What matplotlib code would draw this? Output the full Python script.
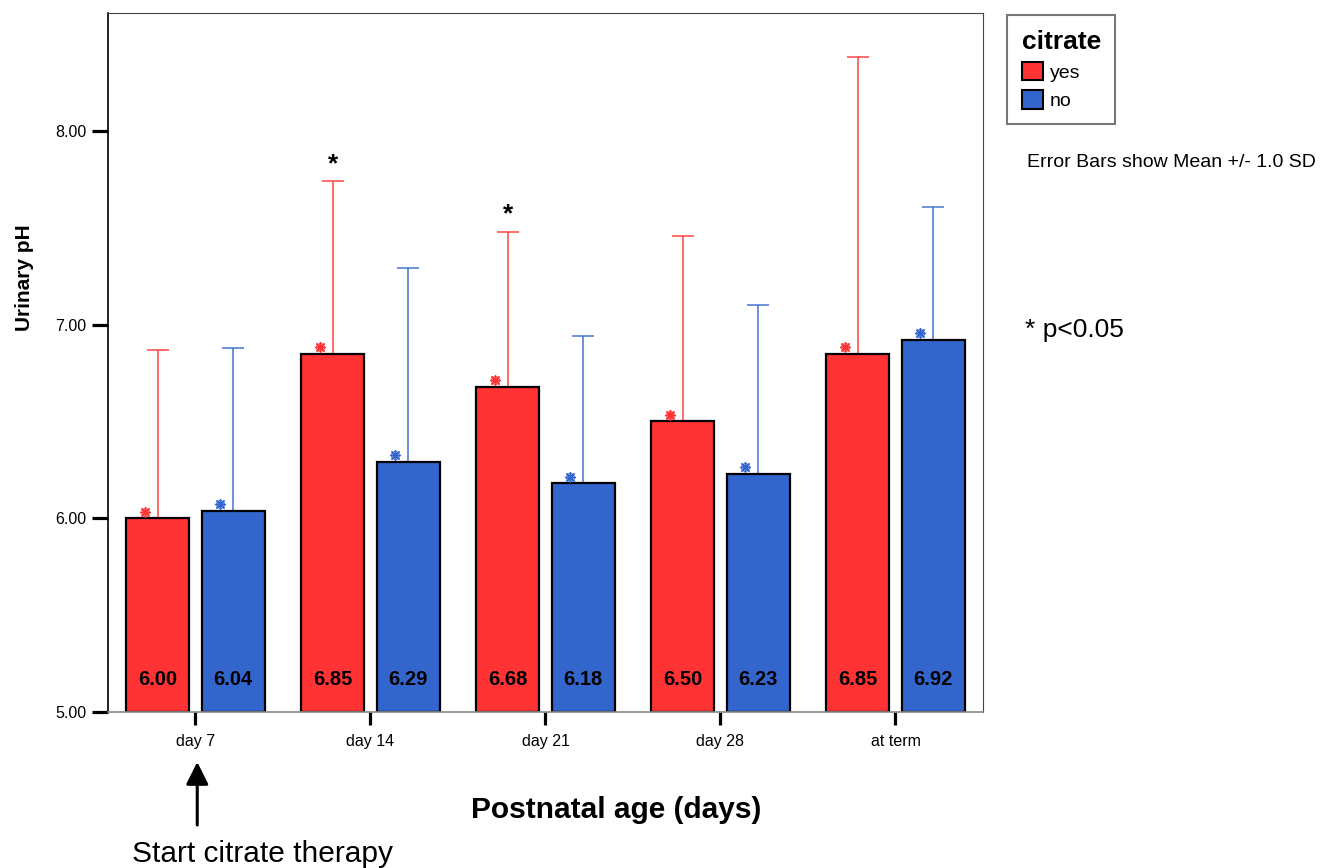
import numpy as np
import matplotlib
matplotlib.use("Agg")
import matplotlib.pyplot as plt
from matplotlib.patches import Patch

plt.rcParams['font.family'] = ['Liberation Sans', 'DejaVu Sans']

# data
ages = ['day 7', 'day 14', 'day 21', 'day 28', 'at term']
mean_yes = [6.00, 6.85, 6.68, 6.50, 6.85]
mean_no = [6.04, 6.29, 6.18, 6.23, 6.92]
sd_yes = [0.87, 0.89, 0.80, 0.96, 1.53]
sd_no = [0.84, 1.00, 0.76, 0.87, 0.69]
signif = [False, True, True, False, False]

red = '#ff3333'
blue = '#3366cc'

fig = plt.figure(figsize=(13.35, 8.68), dpi=100)
ax = fig.add_axes([0.0809, 0.1797, 0.6554, 0.8053])

x = np.arange(len(ages))
w = 0.36
off = 0.215

for means, sds, col, dx in [(mean_yes, sd_yes, red, -off), (mean_no, sd_no, blue, off)]:
    m = np.array(means)
    ax.bar(x + dx, m - 5, w, bottom=5, color=col, edgecolor='black', linewidth=1.6, zorder=2)
    ax.errorbar(x + dx, m, yerr=[np.zeros(len(m)), sds], fmt='none', ecolor=col,
                elinewidth=1.1, capsize=8, capthick=1.1, zorder=1, alpha=0.9)
    # small mean markers
    ax.plot(x + dx - 0.075, m + 0.035, linestyle='none', marker=(8, 2, 0), markersize=8,
            color=col, markeredgewidth=0.9, zorder=3)
    ax.plot(x + dx - 0.075, m + 0.035, linestyle='none', marker='o', markersize=5.5,
            markerfacecolor='none', markeredgecolor=col, markeredgewidth=0.9, zorder=3)
    for xi, v in zip(x + dx, m):
        ax.text(xi, 5.17, f'{v:.2f}', ha='center', va='center', fontsize=14.5,
                fontweight='bold', color='black', zorder=4)

for xi, s, m, sd in zip(x, signif, mean_yes, sd_yes):
    if s:
        ax.text(xi - off, m + sd + 0.09, '*', ha='center', va='center', fontsize=19,
                fontweight='bold', zorder=4)

ax.set_xlim(-0.5, 4.5)
ax.set_ylim(5, 8.609)
ax.set_xticks(x)
ax.set_xticklabels(ages, fontsize=11.5)
ax.set_yticks([5, 6, 7, 8])
ax.set_yticklabels(['5.00', '6.00', '7.00', '8.00'], fontsize=11.5)
ax.tick_params(axis='y', length=11.5, width=2.3, pad=4)
ax.tick_params(axis='x', length=9.5, width=2.3, pad=6)

ax.spines['left'].set_color('black')
ax.spines['left'].set_linewidth(1.2)
ax.spines['bottom'].set_color('#888888')
ax.spines['bottom'].set_linewidth(1.2)
ax.spines['top'].set_color('#444444')
ax.spines['right'].set_color('#444444')

fig.text(0.0187, 0.680, 'Urinary pH', rotation=90, ha='center', va='center',
         fontsize=15, fontweight='bold')
fig.text(0.4614, 0.0668, 'Postnatal age (days)', ha='center', va='center',
         fontsize=21.5, fontweight='bold')
fig.text(0.197, 0.0069, 'Start citrate therapy', ha='center', va='baseline', fontsize=21.5)

ax.annotate('', xy=(0.01, -0.0715), xytext=(0.01, -0.1617),
            xycoords=('data', 'axes fraction'), textcoords=('data', 'axes fraction'),
            arrowprops=dict(arrowstyle='-|>,head_length=0.68,head_width=0.34',
                            mutation_scale=20, color='black', lw=2.2,
                            shrinkA=0, shrinkB=0))

fig.text(0.7693, 0.8133, 'Error Bars show Mean +/- 1.0 SD', ha='left', va='center', fontsize=14)
fig.text(0.7678, 0.6198, '* p<0.05', ha='left', va='center', fontsize=19)

handles = [Patch(facecolor=red, edgecolor='black', linewidth=1.5, label='yes'),
           Patch(facecolor=blue, edgecolor='black', linewidth=1.5, label='no')]
leg = fig.legend(handles=handles, loc='upper left', bbox_to_anchor=(0.7543, 0.9827),
                 title='citrate', fontsize=14, title_fontproperties={'weight': 'bold', 'size': 19},
                 frameon=True, fancybox=False, borderaxespad=0, borderpad=0.75,
                 handlelength=1.1, handleheight=1.1, handletextpad=0.35, labelspacing=0.42,
                 alignment='left')
leg.get_frame().set_edgecolor('#555555')
leg.get_frame().set_linewidth(1.5)

fig.savefig('out.png', dpi=100)
